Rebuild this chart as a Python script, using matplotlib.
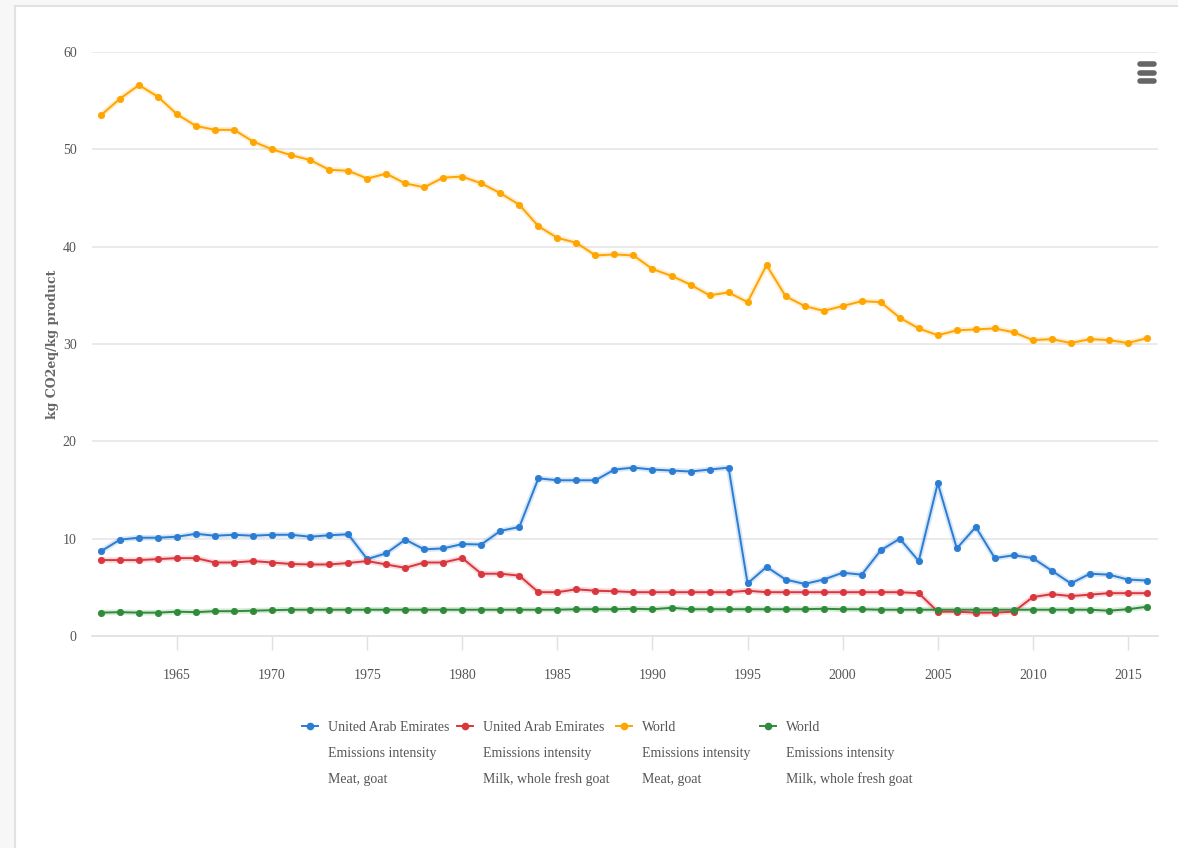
import matplotlib
matplotlib.use("Agg")
import matplotlib.pyplot as plt
from matplotlib.lines import Line2D
from matplotlib.patches import Rectangle

years = list(range(1961, 2017))

uae_meat = [8.7, 9.9, 10.1, 10.1, 10.2, 10.5, 10.3, 10.4, 10.3, 10.4,
            10.4, 10.2, 10.35, 10.45, 7.9, 8.5, 9.9, 8.9, 9.0, 9.45,
            9.4, 10.8, 11.2, 16.2, 16.0, 16.0, 16.0, 17.1, 17.3, 17.1,
            17.0, 16.9, 17.1, 17.3, 5.4, 7.1, 5.8, 5.35, 5.8, 6.5,
            6.3, 8.8, 10.0, 7.7, 15.7, 9.0, 11.2, 8.0, 8.3, 8.0,
            6.7, 5.4, 6.4, 6.3, 5.8, 5.7]

uae_milk = [7.8, 7.8, 7.8, 7.9, 8.0, 8.0, 7.55, 7.55, 7.7, 7.55,
            7.4, 7.35, 7.35, 7.5, 7.7, 7.35, 7.0, 7.55, 7.55, 8.0,
            6.4, 6.4, 6.2, 4.5, 4.5, 4.8, 4.65, 4.6, 4.5, 4.5,
            4.5, 4.5, 4.5, 4.5, 4.65, 4.5, 4.5, 4.5, 4.5, 4.5,
            4.5, 4.5, 4.5, 4.4, 2.5, 2.5, 2.4, 2.4, 2.5, 4.0,
            4.3, 4.1, 4.25, 4.4, 4.4, 4.4]

world_meat = [53.5, 55.2, 56.6, 55.4, 53.6, 52.4, 52.0, 52.0, 50.8, 50.0,
              49.4, 48.9, 47.9, 47.8, 47.0, 47.5, 46.5, 46.1, 47.1, 47.2,
              46.5, 45.5, 44.3, 42.1, 40.9, 40.4, 39.1, 39.2, 39.1, 37.7,
              37.0, 36.1, 35.0, 35.3, 34.3, 38.1, 34.9, 33.9, 33.4, 33.9,
              34.4, 34.3, 32.7, 31.6, 30.9, 31.4, 31.5, 31.6, 31.2, 30.4,
              30.5, 30.1, 30.5, 30.4, 30.1, 30.6]

world_milk = [2.4, 2.45, 2.4, 2.4, 2.5, 2.45, 2.55, 2.55, 2.6, 2.65,
              2.7, 2.7, 2.7, 2.7, 2.7, 2.7, 2.7, 2.7, 2.7, 2.7,
              2.7, 2.7, 2.7, 2.7, 2.7, 2.75, 2.75, 2.75, 2.8, 2.75,
              2.9, 2.75, 2.75, 2.75, 2.75, 2.75, 2.75, 2.75, 2.8, 2.75,
              2.75, 2.7, 2.7, 2.7, 2.7, 2.7, 2.7, 2.7, 2.7, 2.7,
              2.7, 2.7, 2.7, 2.6, 2.75, 3.0]

series = [
    (uae_meat, "#2b7cd3", ["United Arab Emirates", "Emissions intensity", "Meat, goat"]),
    (uae_milk, "#d9363e", ["United Arab Emirates", "Emissions intensity", "Milk, whole fresh goat"]),
    (world_meat, "#ffa500", ["World", "Emissions intensity", "Meat, goat"]),
    (world_milk, "#2e8b3a", ["World", "Emissions intensity", "Milk, whole fresh goat"]),
]

FONT = "Liberation Serif"
TXT = "#555555"


def main():
    fig = plt.figure(figsize=(11.78, 8.48), dpi=100)
    fig.patch.set_facecolor("white")

    # light page frame on the left and top
    fig.add_artist(Rectangle((0, 0), 15 / 1178, 1, transform=fig.transFigure,
                             facecolor="#f7f7f7", edgecolor="none"))
    fig.add_artist(Rectangle((0, 1 - 6 / 848), 1, 6 / 848, transform=fig.transFigure,
                             facecolor="#f7f7f7", edgecolor="none"))
    fig.add_artist(Line2D([15 / 1178, 15 / 1178], [0, 1 - 6 / 848],
                          transform=fig.transFigure, color="#e2e2e2", lw=1.5))
    fig.add_artist(Line2D([15 / 1178, 1], [1 - 6 / 848, 1 - 6 / 848],
                          transform=fig.transFigure, color="#e2e2e2", lw=1.5))

    ax = fig.add_axes([92 / 1178, 1 - 636 / 848, (1158 - 92) / 1178, (636 - 52) / 848])

    for vals, color, label in series:
        ax.plot(years, vals, color=color, lw=4, alpha=0.18, solid_capstyle="round", zorder=2)
        ax.plot(years, vals, color=color, lw=1.4, marker="o", markersize=4.5,
                markeredgewidth=0.6, markeredgecolor=color, zorder=3)

    ax.set_xlim(1960.53, 2016.58)
    ax.set_ylim(0, 60)
    ax.set_yticks(range(0, 61, 10))
    ax.set_xticks(range(1965, 2016, 5))
    ax.grid(axis="y", color="#e6e6e6", lw=1.2)
    ax.set_axisbelow(True)
    for s in ["top", "right", "left"]:
        ax.spines[s].set_visible(False)
    ax.spines["bottom"].set_color("#e0e0e0")
    ax.spines["bottom"].set_linewidth(1.2)
    ax.tick_params(axis="y", length=0, pad=11, labelsize=10, labelcolor=TXT)
    ax.tick_params(axis="x", length=10, width=1, color="#e0e0e0", pad=14,
                   labelsize=10, labelcolor=TXT)
    for lab in ax.get_xticklabels() + ax.get_yticklabels():
        lab.set_fontfamily(FONT)

    ax.set_ylabel("kg CO2eq/kg product", fontsize=9, color="#666666",
                  fontfamily="DejaVu Serif", fontweight="bold", labelpad=3)

    # legend, drawn by hand so the three-line labels sit like the original
    icon_x = [310, 465, 624, 768]
    for (vals, color, lines), px in zip(series, icon_x):
        fx = px / 1178
        fy = 1 - 726 / 848
        fig.add_artist(Line2D([fx - 8 / 1178, fx + 8 / 1178], [fy, fy],
                              transform=fig.transFigure, color=color, lw=1.4))
        fig.add_artist(Line2D([fx], [fy], transform=fig.transFigure, color=color,
                              marker="o", markersize=4.5))
        for i, line in enumerate(lines):
            fig.text(fx + 18 / 1178, 1 - (731 + 26 * i) / 848, line, fontsize=10,
                     color=TXT, fontfamily=FONT, va="baseline", ha="left")

    # menu icon
    for yy in (64, 73, 81):
        fig.add_artist(Line2D([1140 / 1178, 1154 / 1178], [1 - yy / 848] * 2,
                              transform=fig.transFigure, color="#666666", lw=4,
                              solid_capstyle="round"))

    fig.savefig("out.png", dpi=100)


if __name__ == "__main__":
    main()
